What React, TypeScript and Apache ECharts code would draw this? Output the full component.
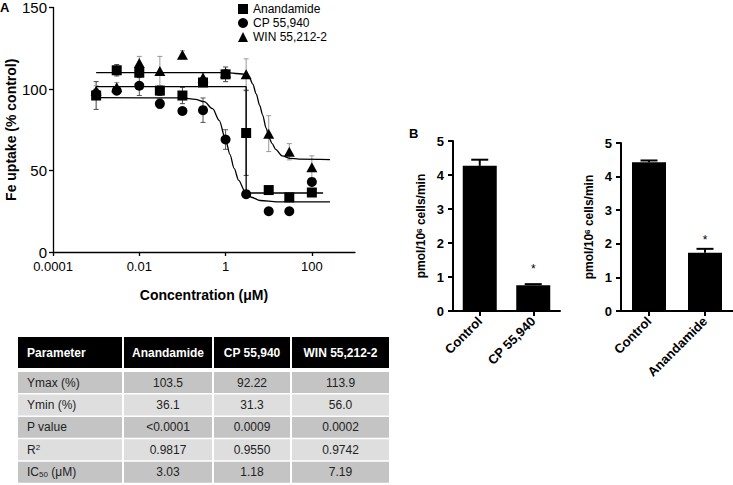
import React, { useEffect, useRef } from 'react';
import * as echarts from 'echarts';

// ---------- Panel A data ----------
const concentrations = [0.001, 0.003, 0.01, 0.03, 0.1, 0.3, 1, 3, 10, 30, 100];
const anandamideMean = [96, 111.5, 110, 99, 96, 104, 109, 73, 38, 33.5, 36.5];
const anandamideErr = [8.5, 3.5, 3, 3, 5, 2, 4.5, 26, 2, 1, 2];
const cpMean = [97, 99, 102, 91, 86.5, 87, 69, 35.5, 25, 25, 43];
const cpErr = [3, 2, 6, 3, 1, 7.5, 6, 1, 1, 1, 2];
const winMean = [99, 101, 116, 111, 121, 107, 110, 109, 72.6, 61.5, 52];
const winErr = [3, 3, 4, 9, 2.5, 3, 2, 9.5, 11, 5, 7];

// fitted curves
const anandamideFitConc = [0.001, 3, 3, 182];
const anandamideFit = [101.4, 101.4, 36.2, 36.2];
const cpFitConc = [0.001, 0.1, 0.2, 0.32, 0.5, 0.71, 1, 1.26, 1.58, 2, 2.82, 3.98, 6.31, 15.8, 263];
const cpFit = [94.7, 94.5, 93.6, 92.2, 87.9, 80.7, 69, 59.9, 51.3, 44.1, 37.2, 33.6, 31.6, 30.8, 30.7];
const winFitConc = [0.001, 1, 3.02, 3.55, 4.27, 5.13, 6.17, 7.24, 8.71, 10.2, 12.0, 14.5, 20.4, 31.6, 50, 263];
const winFit = [110, 110, 109, 107, 103, 97, 90, 84, 76, 70, 66.5, 63, 59, 57.5, 57, 56.7];

const xTickLabels = ['0.0001', '0.01', '1', '100'];
const seriesNames = ['Anandamide', 'CP 55,940', 'WIN 55,212-2'];

// ---------- Panel B data ----------
const bCategories1 = ['Control', 'CP 55,940'];
const bValues1 = [4.27, 0.76];
const bErr1 = [0.18, 0.03];
const bSig1 = [false, true];
const bCategories2 = ['Control', 'Anandamide'];
const bValues2 = [4.43, 1.73];
const bErr2 = [0.05, 0.12];
const bSig2 = [false, true];

// ---------- Table data ----------
const tableHeader = ['Parameter', 'Anandamide', 'CP 55,940', 'WIN 55,212-2'];
const tableParams = ['Ymax (%)', 'Ymin (%)', 'P value', 'R{sup|2}', 'IC{sub|50} (μM)'];
const tableAnandamide = ['103.5', '36.1', '<0.0001', '0.9817', '3.03'];
const tableCP = ['92.22', '31.3', '0.0009', '0.9550', '1.18'];
const tableWIN = ['113.9', '56.0', '0.0002', '0.9742', '7.19'];

const FF = '"Liberation Sans", Arial, Helvetica, sans-serif';

const xTickLogs = xTickLabels.map((s) => Math.log10(parseFloat(s)));

function errRender(color: string, cap: number) {
  return (params: any, api: any) => {
    const x = api.value(0), y = api.value(1), e = api.value(2);
    const t = api.coord([x, y + e]);
    const b = api.coord([x, y - e]);
    const style = { stroke: color, lineWidth: 1 };
    return {
      type: 'group',
      children: [
        { type: 'line', shape: { x1: t[0], y1: t[1], x2: b[0], y2: b[1] }, style },
        { type: 'line', shape: { x1: t[0] - cap, y1: t[1], x2: t[0] + cap, y2: t[1] }, style },
        { type: 'line', shape: { x1: b[0] - cap, y1: b[1], x2: b[0] + cap, y2: b[1] }, style },
      ],
    };
  };
}

function barErrRender(params: any, api: any) {
  const x = api.value(0), y = api.value(1), e = api.value(2);
  const t = api.coord([x, y + e]);
  const b = api.coord([x, y]);
  const style = { stroke: '#000', lineWidth: 2 };
  return {
    type: 'group',
    children: [
      { type: 'line', shape: { x1: t[0], y1: t[1], x2: b[0], y2: b[1] }, style },
      { type: 'line', shape: { x1: t[0] - 8.5, y1: t[1], x2: t[0] + 8.5, y2: t[1] }, style },
    ],
  };
}

const richDefs = {
  sup: { fontSize: 8, verticalAlign: 'top', lineHeight: 8, fontFamily: FF, fill: '#222' },
  sub: { fontSize: 8, verticalAlign: 'bottom', lineHeight: 6, fontFamily: FF, fill: '#222' },
};

function buildTable() {
  const colEdges = [18, 123, 213, 291, 390];
  const headerTop = 337, headerH = 31;
  const rowEdges = [372, 394.5, 417, 439.3, 461.8, 484.3];
  const columns = [tableParams, tableAnandamide, tableCP, tableWIN];
  const els: any[] = [];
  for (let c = 0; c < 4; c++) {
    const x0 = colEdges[c] + (c ? 1 : 0);
    const w = colEdges[c + 1] - colEdges[c] - (c ? 1 : 0) - 1;
    els.push({ type: 'rect', shape: { x: x0, y: headerTop, width: w, height: headerH }, style: { fill: '#000' } });
    els.push({
      type: 'text',
      style: {
        text: tableHeader[c],
        x: c === 0 ? colEdges[0] + 9 : (colEdges[c] + colEdges[c + 1]) / 2,
        y: headerTop + headerH / 2,
        align: c === 0 ? 'left' : 'center',
        verticalAlign: 'middle',
        fill: '#fff',
        fontSize: 12,
        fontWeight: 'bold',
        fontFamily: FF,
      },
    });
    for (let r = 0; r < 5; r++) {
      const y0 = rowEdges[r];
      const h = rowEdges[r + 1] - rowEdges[r] - 1.5;
      els.push({ type: 'rect', shape: { x: x0, y: y0, width: w, height: h }, style: { fill: r % 2 === 0 ? '#c4c4c4' : '#dedede' } });
      els.push({
        type: 'text',
        style: {
          text: columns[c][r],
          x: c === 0 ? colEdges[0] + 9 : (colEdges[c] + colEdges[c + 1]) / 2,
          y: y0 + h / 2,
          align: c === 0 ? 'left' : 'center',
          verticalAlign: 'middle',
          fill: '#222',
          fontSize: 12,
          fontFamily: FF,
          rich: richDefs,
        },
      });
    }
  }
  return els;
}

function buildOption() {
  const axisStyleA = { color: '#000', width: 1.3 };
  const toPts = (xs: number[], ys: number[]) => xs.map((c, i) => [Math.log10(c), ys[i]]);
  const toErr = (ys: number[], es: number[]) => concentrations.map((c, i) => [Math.log10(c), ys[i], es[i]]);
  const barData = (vals: number[], sig: boolean[], dist: number) =>
    vals.map((v, i) => ({
      value: v,
      label: sig[i]
        ? { show: true, formatter: '*', position: 'top', distance: dist, fontSize: 12, color: '#000', fontFamily: FF }
        : { show: false },
    }));

  const bYAxis = (grid: number) => ({
    type: 'value',
    gridIndex: grid,
    min: 0,
    max: 5,
    interval: 1,
    axisLine: { show: true, lineStyle: { color: '#000', width: 2 } },
    axisTick: { show: true, length: 5, lineStyle: { color: '#000', width: 2 } },
    axisLabel: { fontSize: 13, fontWeight: 'bold', color: '#000', margin: 9, fontFamily: FF },
    splitLine: { show: false },
    name: 'pmol/10{sup|6} cells/min',
    nameLocation: 'middle',
    nameGap: 26,
    nameTextStyle: {
      fontSize: 12,
      fontWeight: 'bold',
      color: '#000',
      fontFamily: FF,
      rich: { sup: { fontSize: 8, fontWeight: 'bold', verticalAlign: 'top', lineHeight: 8, color: '#000', fontFamily: FF } },
    },
  });
  const bXAxis = (grid: number, cats: string[]) => ({
    type: 'category',
    gridIndex: grid,
    data: cats,
    axisLine: { show: true, lineStyle: { color: '#000', width: 2 } },
    axisTick: { show: true, alignWithLabel: true, length: 5, lineStyle: { color: '#000', width: 2 } },
    axisLabel: { rotate: 45, interval: 0, fontSize: 13, fontWeight: 'bold', color: '#000', margin: 8, fontFamily: FF },
  });
  const solid = { color: '#000', opacity: 1 };

  return {
    animation: false,
    textStyle: { fontFamily: FF },
    grid: [
      { left: 53, top: 6, width: 302, height: 246 },
      { left: 453, top: 141, width: 107, height: 170 },
      { left: 621, top: 143, width: 112, height: 168 },
    ],
    legend: {
      data: seriesNames,
      orient: 'vertical',
      left: 233,
      top: -2,
      itemWidth: 10,
      itemHeight: 10,
      itemGap: 2,
      itemStyle: { opacity: 1 },
      textStyle: { fontSize: 12, color: '#000', fontFamily: FF },
    },
    xAxis: [
      {
        type: 'value',
        gridIndex: 0,
        min: -4,
        max: 3,
        axisLine: { show: true, onZero: false, lineStyle: axisStyleA },
        axisTick: { show: true, customValues: xTickLogs, length: 4, lineStyle: axisStyleA },
        axisLabel: {
          customValues: xTickLogs,
          formatter: (v: number) => {
            const i = xTickLogs.findIndex((t) => Math.abs(t - v) < 1e-6);
            return i >= 0 ? xTickLabels[i] : '';
          },
          fontSize: 13,
          color: '#000',
          margin: 8,
          fontFamily: FF,
        },
        splitLine: { show: false },
        name: 'Concentration (μM)',
        nameLocation: 'middle',
        nameGap: 36,
        nameTextStyle: { fontSize: 14, fontWeight: 'bold', color: '#000', fontFamily: FF },
      },
      bXAxis(1, bCategories1),
      bXAxis(2, bCategories2),
    ],
    yAxis: [
      {
        type: 'value',
        gridIndex: 0,
        min: 0,
        max: 150,
        interval: 50,
        axisLine: { show: true, onZero: false, lineStyle: axisStyleA },
        axisTick: { show: true, length: 4, lineStyle: axisStyleA },
        axisLabel: { fontSize: 15, color: '#000', margin: 6, fontFamily: FF },
        splitLine: { show: false },
        name: 'Fe uptake (% control)',
        nameLocation: 'middle',
        nameGap: 34,
        nameTextStyle: { fontSize: 14, fontWeight: 'bold', color: '#000', fontFamily: FF },
      },
      bYAxis(1),
      bYAxis(2),
    ],
    series: [
      { type: 'custom', name: 'err-a', xAxisIndex: 0, yAxisIndex: 0, z: 1, renderItem: errRender('#444', 2.5), data: toErr(anandamideMean, anandamideErr) },
      { type: 'custom', name: 'err-c', xAxisIndex: 0, yAxisIndex: 0, z: 1, renderItem: errRender('#555', 2.5), data: toErr(cpMean, cpErr) },
      { type: 'custom', name: 'err-w', xAxisIndex: 0, yAxisIndex: 0, z: 1, renderItem: errRender('#999', 2.5), data: toErr(winMean, winErr) },
      { type: 'line', name: 'fit-a', xAxisIndex: 0, yAxisIndex: 0, z: 2, symbol: 'none', lineStyle: { color: '#000', width: 1.3 }, data: toPts(anandamideFitConc, anandamideFit) },
      { type: 'line', name: 'fit-c', xAxisIndex: 0, yAxisIndex: 0, z: 2, symbol: 'none', smooth: 0.3, smoothMonotone: 'x', lineStyle: { color: '#000', width: 1.3 }, data: toPts(cpFitConc, cpFit) },
      { type: 'line', name: 'fit-w', xAxisIndex: 0, yAxisIndex: 0, z: 2, symbol: 'none', smooth: 0.3, smoothMonotone: 'x', lineStyle: { color: '#000', width: 1.3 }, data: toPts(winFitConc, winFit) },
      { type: 'scatter', name: seriesNames[0], xAxisIndex: 0, yAxisIndex: 0, z: 3, symbol: 'rect', symbolSize: 10, itemStyle: solid, data: toPts(concentrations, anandamideMean) },
      { type: 'scatter', name: seriesNames[1], xAxisIndex: 0, yAxisIndex: 0, z: 3, symbol: 'circle', symbolSize: 10, itemStyle: solid, data: toPts(concentrations, cpMean) },
      { type: 'scatter', name: seriesNames[2], xAxisIndex: 0, yAxisIndex: 0, z: 3, symbol: 'triangle', symbolSize: [11, 10], itemStyle: solid, data: toPts(concentrations, winMean) },
      { type: 'bar', name: 'b1', xAxisIndex: 1, yAxisIndex: 1, barWidth: 34, itemStyle: { color: '#000' }, data: barData(bValues1, bSig1, 10) },
      { type: 'custom', name: 'b1-err', xAxisIndex: 1, yAxisIndex: 1, z: 3, renderItem: barErrRender, data: bValues1.map((v, i) => [i, v, bErr1[i]]) },
      { type: 'bar', name: 'b2', xAxisIndex: 2, yAxisIndex: 2, barWidth: 34, itemStyle: { color: '#000' }, data: barData(bValues2, bSig2, 7) },
      { type: 'custom', name: 'b2-err', xAxisIndex: 2, yAxisIndex: 2, z: 3, renderItem: barErrRender, data: bValues2.map((v, i) => [i, v, bErr2[i]]) },
    ],
    graphic: [
      { type: 'text', style: { text: 'A', x: 0, y: 1, align: 'left', verticalAlign: 'top', fontSize: 13, fontWeight: 'bold', fill: '#000', fontFamily: FF } },
      { type: 'text', style: { text: 'B', x: 409, y: 127, align: 'left', verticalAlign: 'top', fontSize: 13, fontWeight: 'bold', fill: '#000', fontFamily: FF } },
      ...buildTable(),
    ],
  };
}

export default function App() {
  const ref = useRef<HTMLDivElement>(null);
  useEffect(() => {
    document.body.style.margin = '0';
    const chart = echarts.init(ref.current as HTMLDivElement, null, { renderer: 'svg' });
    chart.setOption(buildOption() as any);
    return () => chart.dispose();
  }, []);
  return <div ref={ref} style={{ width: 733, height: 485 }} />;
}
